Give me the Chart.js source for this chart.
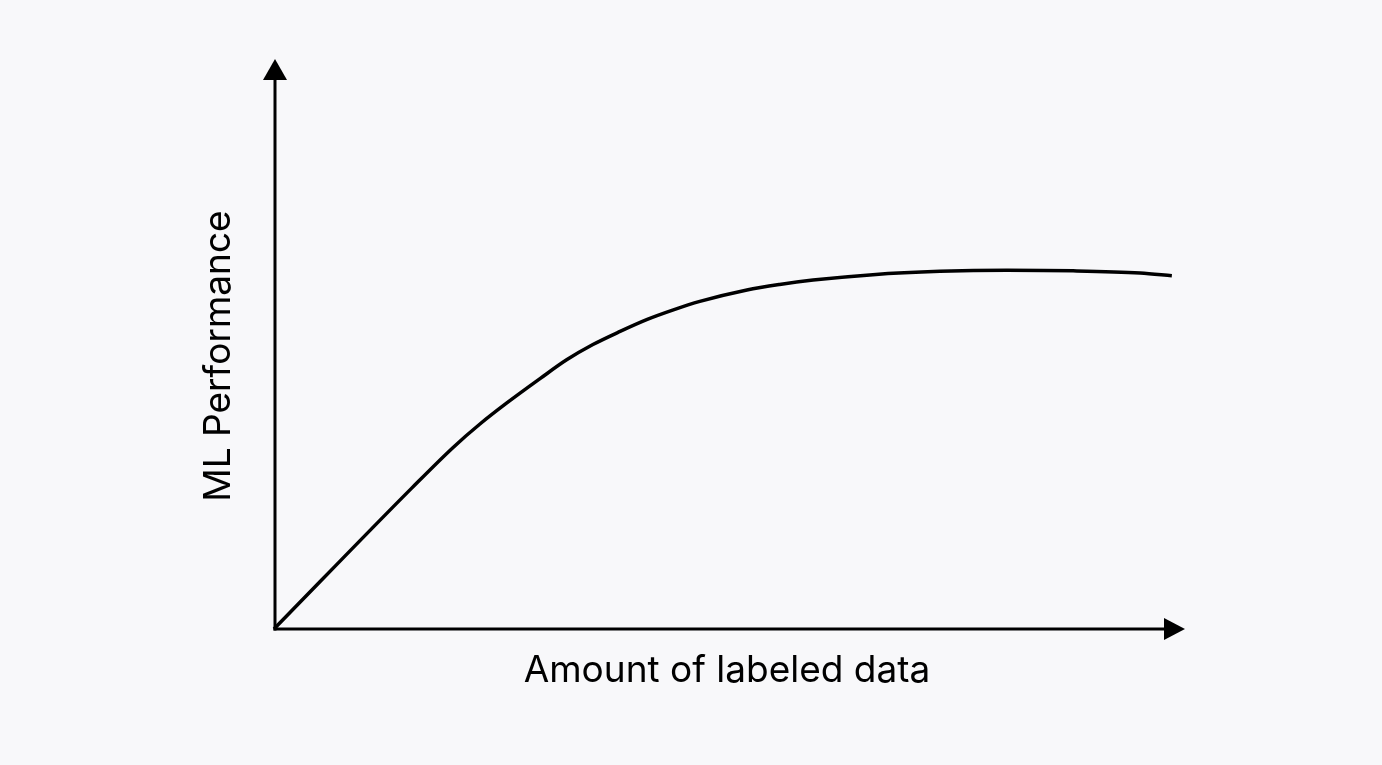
<!DOCTYPE html>
<html>
<head>
<meta charset="utf-8">
<script src="https://cdn.jsdelivr.net/npm/chart.js@4"></script>
<style>
  html, body { margin: 0; padding: 0; background: #f8f8fa; }
  #wrap { width: 1382px; height: 765px; }
</style>
</head>
<body>
<div id="wrap"><canvas id="curve"></canvas></div>
<script>
// amount of labeled data (0-100) vs ML performance (0-100)
const dataAmount = [0, 15.2, 19.8, 22.7, 25.7, 29.4, 32.3, 35.2, 38.2, 41.2, 44, 47, 52.2, 55.8, 59.5, 66.1, 73.5, 80.9, 88.2, 95.6, 99.1];
const performance = [0, 25.8, 33.3, 37.5, 41.4, 45.9, 49.3, 52.1, 54.5, 56.7, 58.4, 60, 62.1, 63.1, 63.9, 64.9, 65.5, 65.7, 65.6, 65.2, 64.7];
const xTitle = 'Amount of labeled data';
const yTitle = 'ML Performance';

const ink = '#000000';
const labelFont = { family: 'Inter', size: 37, weight: '400' };

// draws the two axis lines with arrow heads
const arrowAxes = {
    id: 'arrowAxes',
    afterDatasetsDraw(chart) {
        const ctx = chart.ctx;
        const a = chart.chartArea;
        const x0 = a.left + 1;
        const y0 = a.bottom;
        ctx.save();
        ctx.strokeStyle = ink;
        ctx.fillStyle = ink;
        ctx.lineWidth = 3;
        ctx.lineCap = 'butt';

        // y axis
        ctx.beginPath();
        ctx.moveTo(x0, y0 + 1.5);
        ctx.lineTo(x0, a.top - 6);
        ctx.stroke();
        ctx.beginPath();
        ctx.moveTo(x0, a.top - 24);
        ctx.lineTo(x0 - 12, a.top - 3);
        ctx.lineTo(x0 + 12, a.top - 3);
        ctx.closePath();
        ctx.fill();

        // x axis
        ctx.beginPath();
        ctx.moveTo(x0 - 1.5, y0);
        ctx.lineTo(a.right - 14, y0);
        ctx.stroke();
        ctx.beginPath();
        ctx.moveTo(a.right + 5, y0);
        ctx.lineTo(a.right - 16, y0 - 11);
        ctx.lineTo(a.right - 16, y0 + 11);
        ctx.closePath();
        ctx.fill();
        ctx.restore();
    }
};

new Chart(document.getElementById('curve').getContext('2d'), {
    type: 'line',
    data: {
        datasets: [{
            data: dataAmount.map((x, i) => ({ x: x, y: performance[i] })),
            borderColor: ink,
            borderWidth: 3.5,
            pointRadius: 0,
            fill: false,
            cubicInterpolationMode: 'monotone',
            clip: false
        }]
    },
    options: {
        responsive: true,
        maintainAspectRatio: false,
        animation: false,
        layout: { padding: { left: 197, right: 202, top: 83, bottom: 72 } },
        plugins: {
            legend: { display: false },
            tooltip: { enabled: false }
        },
        scales: {
            x: {
                type: 'linear',
                min: 0,
                max: 100,
                grid: { display: false },
                border: { display: false },
                ticks: { display: false },
                title: { display: true, text: xTitle, color: ink, font: labelFont, padding: 0 },
                afterFit(scale) { scale.height = 64; }
            },
            y: {
                type: 'linear',
                min: 0,
                max: 100,
                grid: { display: false },
                border: { display: false },
                ticks: { display: false },
                title: { display: true, text: yTitle, color: ink, font: labelFont, padding: 0 },
                afterFit(scale) { scale.width = 77; }
            }
        }
    },
    plugins: [arrowAxes]
});
</script>
</body>
</html>
